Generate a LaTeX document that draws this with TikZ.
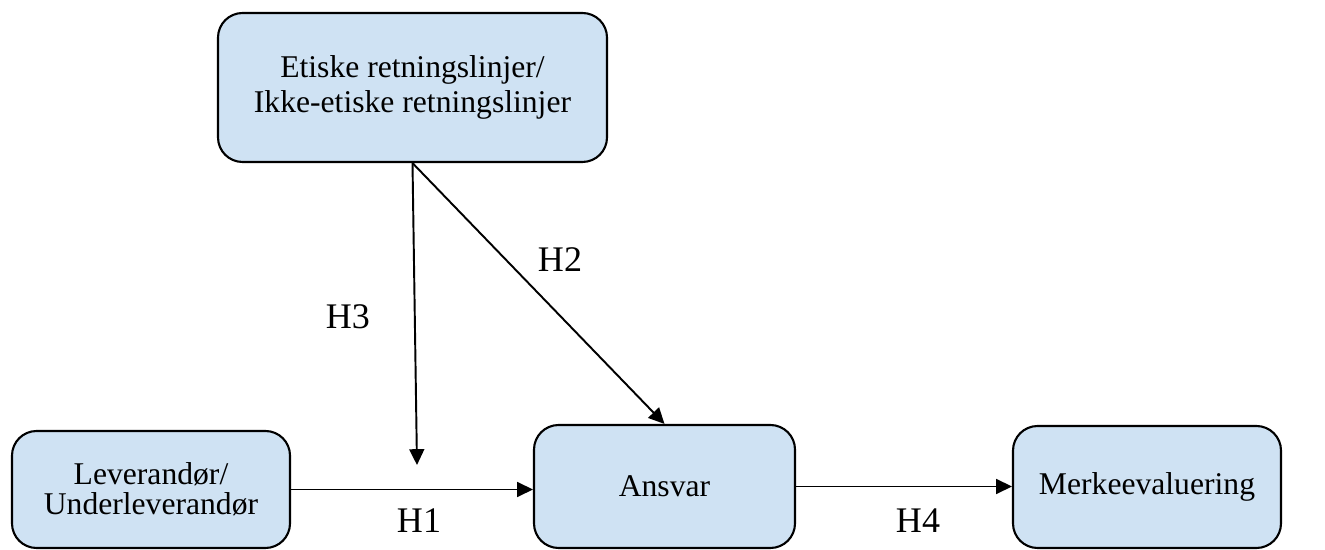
\documentclass[tikz,border=0pt]{standalone}
\usepackage{fontspec}
\setmainfont{Liberation Serif}
\definecolor{boxblue}{RGB}{207,226,243}
\usetikzlibrary{arrows.meta,positioning}

\begin{document}
\begin{tikzpicture}[
  every node/.style={font=\fontsize{18}{20}\selectfont},
  modelbox/.style={draw,line width=1.2pt,rounded corners=14pt,fill=boxblue,
                   align=center,inner sep=0pt},
  hyparrow/.style={-{Triangle[length=9pt,width=8.5pt]},line width=1.1pt},
  hyplabel/.style={font=\fontsize{20.5}{24}\selectfont},
]
  \useasboundingbox (0,0) rectangle (26.5,11);
  % Top box
  \node[modelbox,minimum width=7.78cm,minimum height=2.98cm] (guide) at (8.25,9.25) {%
    Etiske retningslinjer/\\Ikke-etiske retningslinjer
  };
  % Bottom row
  \node[modelbox,minimum width=5.56cm,minimum height=2.34cm,
        font=\fontsize{18}{17}\selectfont] (lev) at (3.02,1.21) {%
    Leverand\o r/\\Underleverand\o r
  };
  \node[modelbox,minimum width=5.22cm,minimum height=2.46cm] (ansvar) at (13.29,1.27) {Ansvar};
  \node[modelbox,minimum width=5.36cm,minimum height=2.44cm] (merke) at (22.94,1.26) {Merkeevaluering};

  % Hypotheses
  \coordinate (h3tip) at (8.34,1.70);
  \draw[hyparrow] (lev.east) -- (lev.east -| ansvar.west);
  \draw[hyparrow] (ansvar.east) -- (ansvar.east -| merke.west);
  \draw[hyparrow] (guide.south) -- (h3tip);
  \draw[hyparrow] (guide.south) -- (ansvar.north);

  \node[hyplabel] (h1) at (8.38,0.58) {H1};
  \node[hyplabel] (h2) at (11.2,5.8) {H2};
  \node[hyplabel] (h3) at (6.96,4.66) {H3};
  \node[hyplabel] (h4) at (18.36,0.58) {H4};
\end{tikzpicture}
\end{document}
